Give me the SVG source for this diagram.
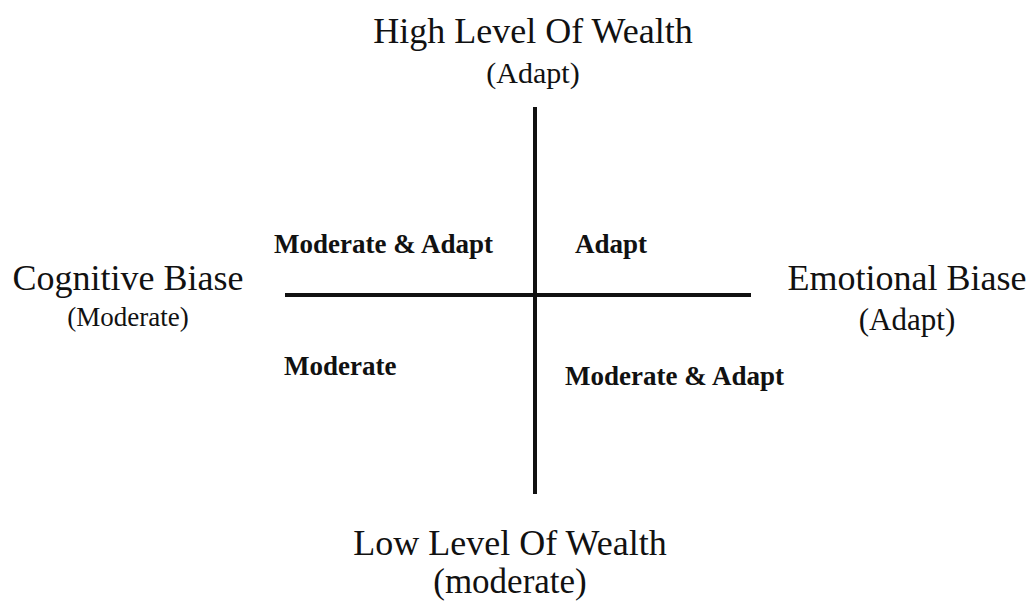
<svg xmlns="http://www.w3.org/2000/svg" width="1031" height="605" viewBox="0 0 1031 605">
<style>
.t{font-family:"Liberation Serif","Times New Roman",serif;fill:#111;text-anchor:middle}
.big{font-size:36px}
.b{font-family:"Liberation Serif","Times New Roman",serif;font-weight:bold;font-size:27px;fill:#111}
.ax{stroke:#111;stroke-width:4;fill:none}
</style>
<rect width="1031" height="605" fill="#fff"/>
<g id="connectors">
<line class="ax" x1="535" y1="107" x2="535" y2="494"/>
<line class="ax" x1="285" y1="295" x2="751" y2="295"/>
</g>
<g id="top"><text class="t big" x="533" y="43">High Level Of Wealth</text><text class="t" font-size="30" x="533" y="83">(Adapt)</text></g>
<g id="left"><text class="t big" x="128" y="290">Cognitive Biase</text><text class="t" font-size="27" x="128" y="326">(Moderate)</text></g>
<g id="right"><text class="t big" x="907" y="290">Emotional Biase</text><text class="t" font-size="31" x="907" y="330">(Adapt)</text></g>
<g id="bottom"><text class="t big" x="510" y="555">Low Level Of Wealth</text><text class="t" font-size="35" x="510" y="593">(moderate)</text></g>
<g id="q1"><text class="b" x="274" y="253">Moderate &amp; Adapt</text></g>
<g id="q2"><text class="b" x="575" y="253">Adapt</text></g>
<g id="q3"><text class="b" x="284" y="375">Moderate</text></g>
<g id="q4"><text class="b" x="565" y="385">Moderate &amp; Adapt</text></g>
</svg>
